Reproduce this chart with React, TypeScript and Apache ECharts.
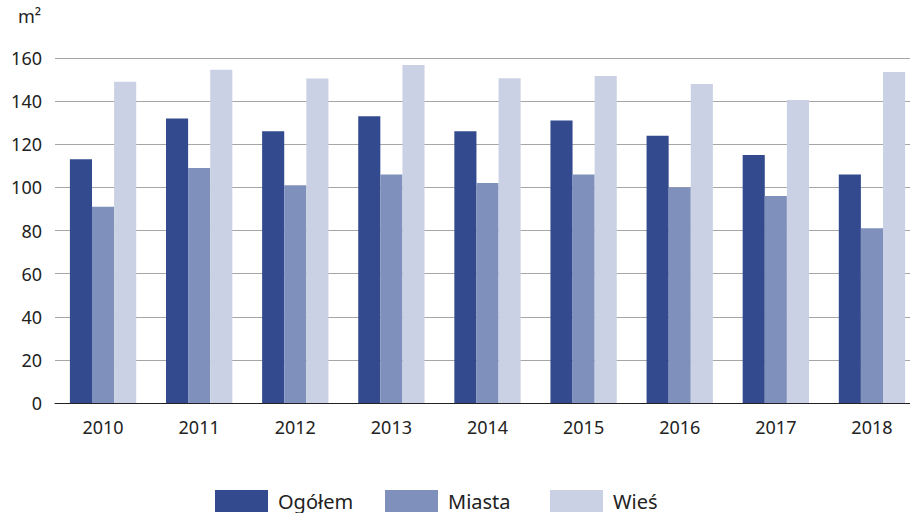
import React, { useEffect, useRef } from "react";
import * as echarts from "echarts";

const years = ["2010", "2011", "2012", "2013", "2014", "2015", "2016", "2017", "2018"];
const ogolem = [113, 132, 126, 133, 126, 131, 124, 115, 106];
const miasta = [91, 109, 101, 106, 102, 106, 100, 96, 81];
const wies = [149, 154.5, 150.5, 156.8, 150.6, 151.7, 148, 140.5, 153.5];
const seriesNames = ["Ogółem", "Miasta", "Wieś"];
const colors = ["#334a8e", "#8090bd", "#cbd1e5"];
const legendLefts = [215, 385, 550];

const FONT = "'Noto Sans', sans-serif";

export default function App() {
  const ref = useRef<HTMLDivElement>(null);
  useEffect(() => {
    if (!ref.current) return;
    const chart = echarts.init(ref.current, undefined, { renderer: "svg" });
    const datasets = [ogolem, miasta, wies];
    chart.setOption({
      animation: false,
      textStyle: { fontFamily: FONT },
      grid: { left: 55, right: 0, top: 58, bottom: 110, containLabel: false },
      legend: seriesNames.map((name, i) => ({
        top: 490,
        left: legendLefts[i],
        itemWidth: 53,
        itemHeight: 22,
        icon: "rect",
        padding: 0,
        textStyle: { fontSize: 20, color: "#222", fontFamily: FONT, padding: [2, 0, 0, 5] },
        data: [name],
      })),
      graphic: [
        {
          type: "text",
          left: 18,
          top: 7,
          style: { text: "m²", fontSize: 18, fill: "#222", fontFamily: FONT },
        },
      ],
      xAxis: {
        type: "category",
        data: years,
        axisLine: { lineStyle: { color: "#222", width: 1 } },
        axisTick: { show: false },
        axisLabel: { fontSize: 18, color: "#222", margin: 15, fontFamily: FONT },
      },
      yAxis: {
        type: "value",
        min: 0,
        max: 160,
        interval: 20,
        axisLine: { show: false },
        axisTick: { show: false },
        axisLabel: { fontSize: 18, color: "#222", margin: 13, fontFamily: FONT },
        splitLine: { lineStyle: { color: "#a6a6a6", width: 1 } },
      },
      series: seriesNames.map((name, i) => ({
        name,
        type: "bar",
        data: datasets[i],
        itemStyle: { color: colors[i] },
        barGap: "0%",
        barCategoryGap: "31%",
      })),
    });
    return () => chart.dispose();
  }, []);
  return (
    <div
      style={{
        position: "fixed",
        left: 0,
        top: 0,
        width: 910,
        height: 513,
        overflow: "hidden",
        background: "#fff",
      }}
    >
      <div ref={ref} style={{ width: 920, height: 513 }} />
    </div>
  );
}
